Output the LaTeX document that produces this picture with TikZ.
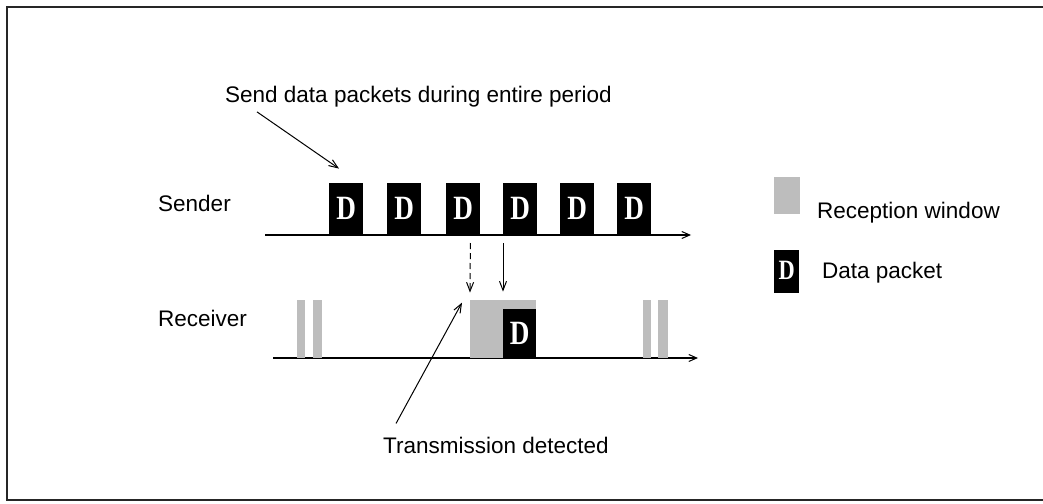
\documentclass[tikz,border=0pt]{standalone}
\usepackage{fontspec}
\usepackage{graphicx}
\setmainfont{Liberation Sans}
\newfontfamily\pktfont{Liberation Serif}
\usetikzlibrary{arrows.meta,calc}

% narrow bold packet letter
\newcommand{\pktD}{\scalebox{0.8}[1]{D}}

\tikzset{
  lbl/.style={font=\fontsize{22.5}{27}\selectfont, inner sep=0pt, anchor=base west},
  pkt/.style={fill=black, draw=none, inner sep=0pt, anchor=south west,
    minimum width=34pt, minimum height=52pt, text=white,
    text height=23pt, text depth=1pt,
    font=\pktfont\bfseries\fontsize{34}{34}\selectfont},
  win/.style={fill=black!26, draw=none, inner sep=0pt, anchor=south west},
  timeline/.style={line width=1.4pt, -{Straight Barb[length=8pt,width=7pt,line width=1pt]}},
  pointer/.style={line width=1pt, -{Straight Barb[length=9pt,width=7pt,line width=1pt]}},
  frame/.style={line width=2pt, draw=black!85},
}

\begin{document}
\begin{tikzpicture}[x=1pt, y=-1pt]
  \useasboundingbox (0,0) rectangle (1043,503);

  % outer frame, running off the right edge
  \draw[frame] (1046,7) -- (7,7) -- (7,500) -- (1046,500);

  % labels
  \node[lbl] (send)  at (225,102) {Send data packets during entire period};
  \node[lbl] (slbl)  at (158,211) {Sender};
  \node[lbl] (rlbl)  at (158,326) {Receiver};
  \node[lbl] (trans) at (383,453) {Transmission detected};

  % time axes
  \coordinate (sa0) at (265,235);
  \coordinate (sa1) at (691,235);
  \coordinate (ra0) at (273,358);
  \coordinate (ra1) at (698,358);
  \draw[timeline] (sa0) -- (sa1);
  \draw[timeline] (ra0) -- (ra1);

  % sender packets
  \foreach \i/\x in {1/329, 2/387, 3/446, 4/503, 5/560, 6/617}
    \node[pkt] (p\i) at (\x,235) {\pktD};

  % receiver reception windows
  \node[win, minimum width=8pt,  minimum height=58pt] (w1) at (297,358) {};
  \node[win, minimum width=9pt,  minimum height=58pt] (w2) at (313,358) {};
  \node[win, minimum width=66pt, minimum height=58pt] (rwin) at (470,358) {};
  \node[win, minimum width=8pt,  minimum height=58pt] (w3) at (643,358) {};
  \node[win, minimum width=10pt, minimum height=58pt] (w4) at (658,358) {};

  % received packet
  \node[pkt, minimum width=33pt, minimum height=49pt] (rp) at (503,358) {\pktD};

  % pointers
  \draw[pointer] ($(send.south west)+(32,5)$) -- ($(p1.north west)+(10,-14)$);
  \draw[pointer, dashed, dash pattern=on 6pt off 4pt] ($(p3.south east)+(-10,8)$) -- ($(rwin.north west)+(0,-7)$);
  \draw[pointer] ($(p4.south west)+(0,8)$) -- ($(rp.north west)+(0,-17)$);
  \draw[pointer] ($(trans.north west)+(13,-13)$) -- ($(rwin.north west)+(-8,3)$);

  % legend
  \node[win, minimum width=26pt, minimum height=37pt] (lgwin) at (774,214) {};
  \node[lbl] (lgwintxt) at (817,218) {Reception window};
  \node[pkt, minimum width=25pt, minimum height=43pt, text height=19pt, text depth=3pt,
        font=\pktfont\bfseries\fontsize{28}{28}\selectfont] (lgpkt) at (774,293) {\pktD};
  \node[lbl] (lgpkttxt) at (822,278) {Data packet};
\end{tikzpicture}
\end{document}
